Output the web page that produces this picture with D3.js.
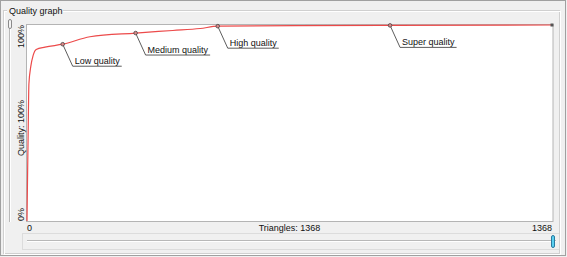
<!DOCTYPE html>
<html>
<head>
<meta charset="utf-8">
<script src="https://cdn.jsdelivr.net/npm/d3@7"></script>
<style>
  body { margin: 0; background: #f0f0f0; }
  svg text { font-family: "Liberation Sans", Arial, sans-serif; font-size: 9px; fill: #111; }
</style>
</head>
<body>
<div id="chart"></div>
<script>
// chart values
const triangles = [0, 1, 3, 5, 10, 16, 24, 47, 93, 164, 283, 380, 451, 497, 700, 946, 1368];
const quality = [0, 15.8, 44.9, 70, 79, 84.5, 87.5, 88.7, 90.2, 94.0, 95.9, 97.2, 98.2, 99.4, 99.7, 99.8, 100];
const presetNames = ["Low quality", "Medium quality", "High quality", "Super quality"];
const presetTriangles = [93, 283, 497, 946];
const presetQuality = [90.2, 95.9, 99.4, 99.8];
const totalTriangles = 1368;

const width = 567, height = 257;
const svg = d3.select("#chart").append("svg")
    .attr("width", width)
    .attr("height", height);

// window frame + group box
svg.append("rect").attr("x", 0.5).attr("y", 0.5).attr("width", 565).attr("height", 255)
    .attr("fill", "#f0f0f0").attr("stroke", "#a0a0a0");
svg.append("rect").attr("x", 3.5).attr("y", 10.5).attr("width", 556).attr("height", 243)
    .attr("fill", "none").attr("stroke", "#d0d0d0");
svg.append("rect").attr("x", 4.5).attr("y", 11.5).attr("width", 556).attr("height", 243)
    .attr("fill", "none").attr("stroke", "#ffffff");
svg.append("rect").attr("x", 7).attr("y", 4).attr("width", 56).attr("height", 12).attr("fill", "#f0f0f0");
svg.append("text").attr("x", 9).attr("y", 14).text("Quality graph");

// little vertical slider on the left
svg.append("line").attr("x1", 9.5).attr("x2", 9.5).attr("y1", 28).attr("y2", 222)
    .attr("stroke", "#b8b8b8");
svg.append("line").attr("x1", 10.5).attr("x2", 10.5).attr("y1", 28).attr("y2", 222)
    .attr("stroke", "#ffffff");
svg.append("rect").attr("x", 8.5).attr("y", 19.5).attr("width", 3).attr("height", 9).attr("rx", 1.5)
    .attr("fill", "#f4f4f4").attr("stroke", "#8a8a8a");

// plot area
const plot = { left: 27, right: 552, top: 25, bottom: 221 };
svg.append("rect").attr("x", plot.left - 0.5).attr("y", plot.top - 0.5)
    .attr("width", plot.right - plot.left + 1.5).attr("height", plot.bottom - plot.top + 1)
    .attr("fill", "#ffffff").attr("stroke", "#b4b4b4");

const x = d3.scaleLinear().domain([0, totalTriangles]).range([plot.left, plot.right]);
const y = d3.scaleLinear().domain([0, 100]).range([plot.bottom, plot.top]);

svg.append("path")
    .datum(triangles.map((t, i) => [t, quality[i]]))
    .attr("fill", "none")
    .attr("stroke", "#ec4a4a")
    .attr("stroke-width", 1.2)
    .attr("d", d3.line().x(d => x(d[0])).y(d => y(d[1])).curve(d3.curveMonotoneX));

// y labels (rotated)
svg.append("text").attr("transform", `translate(24, ${plot.top}) rotate(-90)`)
    .attr("text-anchor", "end").text("100%");
svg.append("text").attr("transform", `translate(24, ${plot.bottom}) rotate(-90)`)
    .attr("text-anchor", "start").text("0%");
svg.append("text").attr("transform", `translate(24, ${(plot.top + plot.bottom) / 2 + 5}) rotate(-90)`)
    .attr("text-anchor", "middle").text("Quality: 100%");

// x labels
svg.append("text").attr("x", x(0)).attr("y", 231).text("0");
svg.append("text").attr("x", (plot.left + plot.right) / 2).attr("y", 231)
    .attr("text-anchor", "middle").text("Triangles: " + totalTriangles);
svg.append("text").attr("x", x(totalTriangles)).attr("y", 231)
    .attr("text-anchor", "end").text(totalTriangles);

// preset callouts
presetNames.forEach((name, i) => {
    const px = x(presetTriangles[i]), py = y(presetQuality[i]);
    const g = svg.append("g");
    const label = g.append("text").attr("x", px + 12).attr("y", py + 20).text(name);
    const w = label.node().getComputedTextLength();
    g.append("path")
        .attr("d", `M${px},${py}L${px + 10},${py + 22}H${px + 14 + w}`)
        .attr("fill", "none").attr("stroke", "#333").attr("stroke-width", 0.8);
    g.append("circle").attr("cx", px).attr("cy", py).attr("r", 1.8)
        .attr("fill", "#d88").attr("stroke", "#444").attr("stroke-width", 0.8);
});
// current position marker
svg.append("rect").attr("x", x(totalTriangles) - 1.5).attr("y", y(100) - 1.5)
    .attr("width", 3).attr("height", 3).attr("fill", "#555");

// bottom slider
svg.append("rect").attr("x", 22.5).attr("y", 233.5).attr("width", 537).attr("height", 16)
    .attr("fill", "#f0f0f0").attr("stroke", "#c8c8c8").attr("stroke-dasharray", "1,1");
svg.append("line").attr("x1", 27).attr("x2", 556).attr("y1", 240.5).attr("y2", 240.5)
    .attr("stroke", "#b8b8b8");
svg.append("line").attr("x1", 27).attr("x2", 556).attr("y1", 241.5).attr("y2", 241.5)
    .attr("stroke", "#ffffff");
svg.append("rect").attr("x", x(totalTriangles) - 0.5).attr("y", 235.5).attr("width", 3).attr("height", 12)
    .attr("rx", 1.5).attr("fill", "#5ad0f0").attr("stroke", "#2a7aa0");
</script>
</body>
</html>
